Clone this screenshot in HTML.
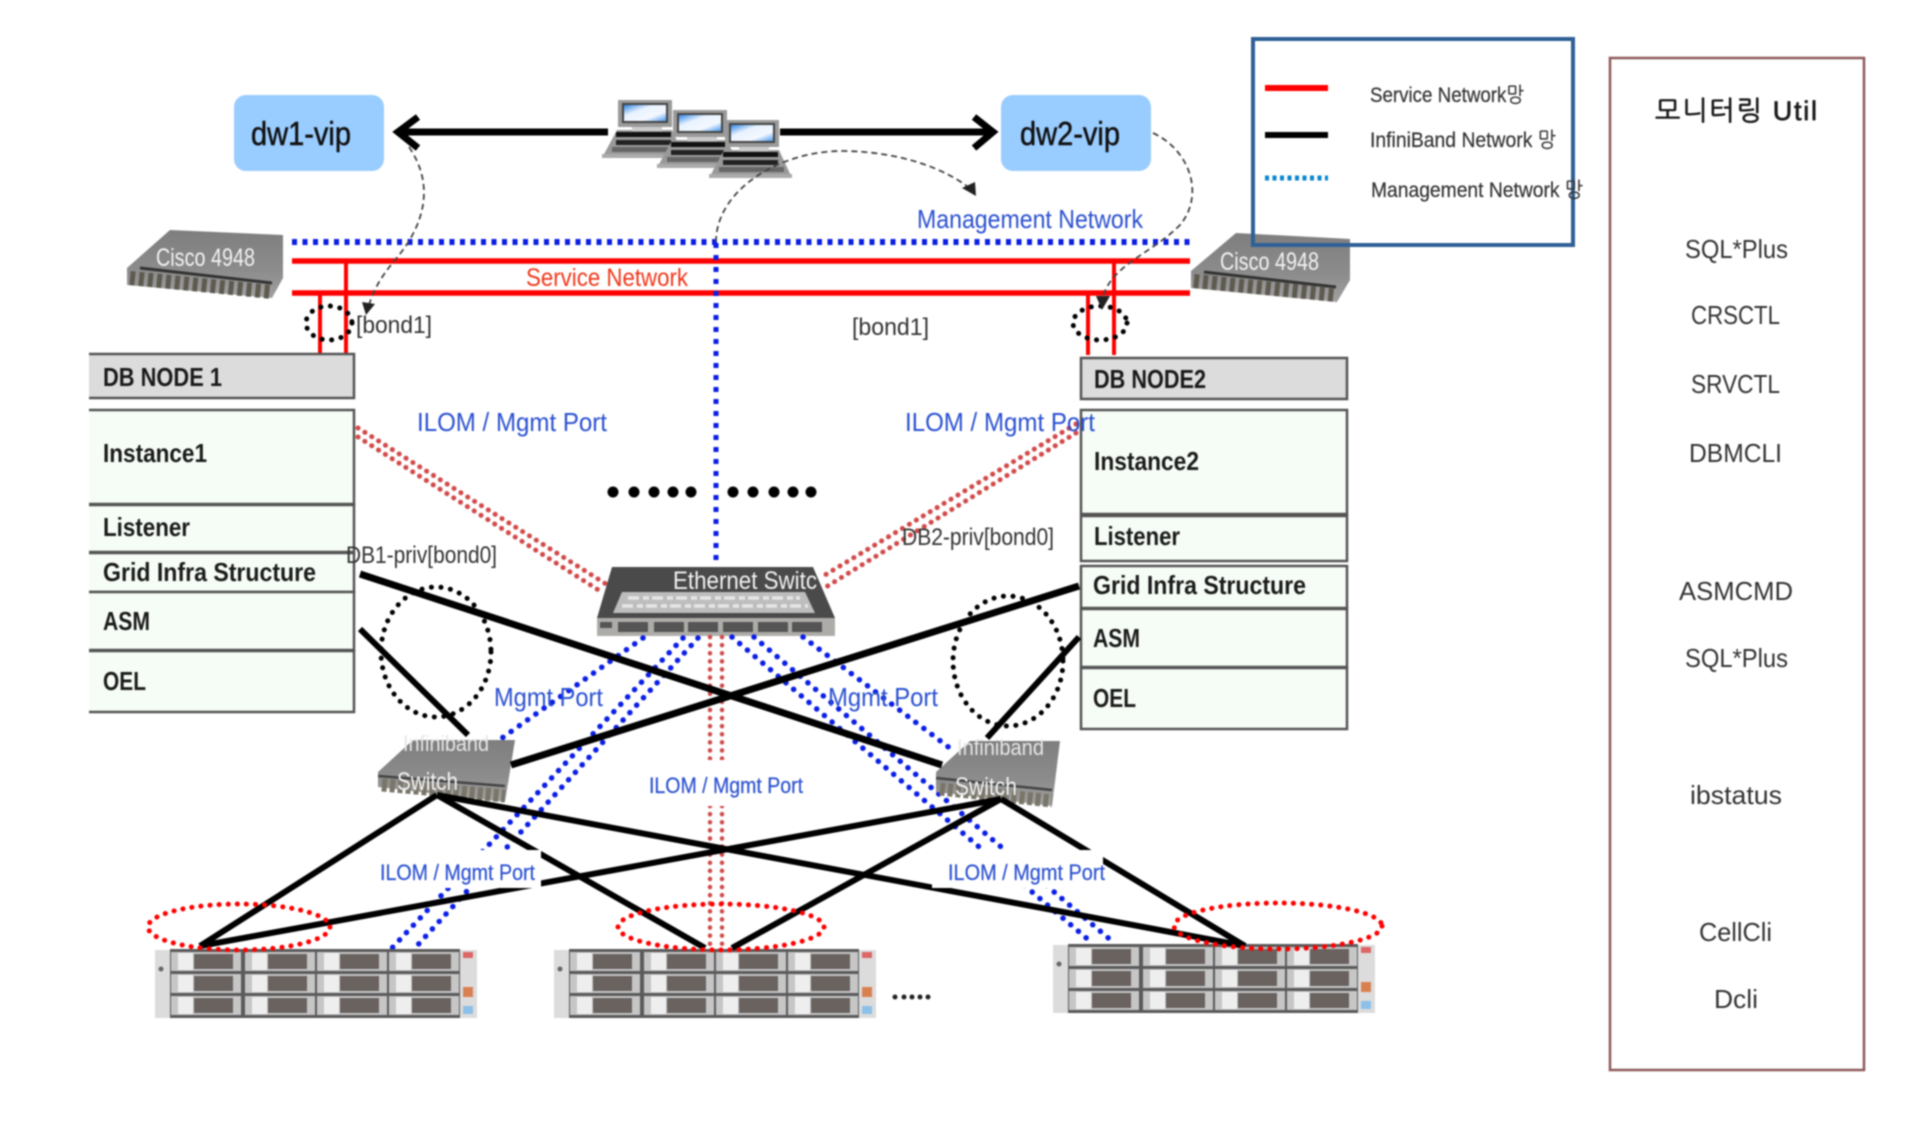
<!DOCTYPE html>
<html lang="ko"><head><meta charset="utf-8"><title>Network diagram</title>
<style>
html,body{margin:0;padding:0;background:#fff}
svg{display:block;filter:blur(.8px)}
text{font-family:"Liberation Sans","NanumGothic","Noto Sans CJK KR",sans-serif}
.n{font-size:26px;font-weight:bold;fill:#1a1a1a}
.v{font-size:33px;fill:#111;stroke:#111;stroke-width:.5}
.b{font-size:26px;fill:#2a50d0}
.s{font-size:22px;fill:#2a50d0;stroke:#2a50d0;stroke-width:.2}
.k{font-size:24px;fill:#333}
.l{font-size:21px;fill:#333;stroke:#333;stroke-width:.2}
.t{font-size:26px;fill:#333}
.w{font-size:25px;fill:#f2f2f2}
.box{fill:#f6fdf6;stroke:#555;stroke-width:2.5}
.bd{stroke:#0a1ee6;stroke-width:5.5;stroke-dasharray:.1 10;stroke-linecap:round;fill:none}
.rd{stroke:#d24a4a;stroke-width:5;stroke-dasharray:.1 8;stroke-linecap:round;fill:none}
.ik{stroke:#000;fill:none}
.ds{stroke:#444;stroke-width:1.8;stroke-dasharray:6 4;fill:none}
.ck{stroke:#000;stroke-width:5;stroke-dasharray:.1 9.5;stroke-linecap:round;fill:none}
.er{stroke:#f00;stroke-width:5;stroke-dasharray:.1 9;stroke-linecap:round;fill:none}
</style></head><body>
<svg xmlns="http://www.w3.org/2000/svg" width="1930" height="1142" viewBox="0 0 1930 1142">
<defs>
<linearGradient id="sw" x1="0" y1="0" x2="0" y2="1"><stop offset="0" stop-color="#7e7e7e"/><stop offset=".6" stop-color="#8c8c8c"/><stop offset="1" stop-color="#a0a0a0"/></linearGradient>
<linearGradient id="scr" x1="0" y1="0" x2="1" y2="1"><stop offset="0" stop-color="#2f86e6"/><stop offset=".35" stop-color="#e8f2ff"/><stop offset=".7" stop-color="#f4f8ff"/><stop offset="1" stop-color="#4a9aee"/></linearGradient>
<g id="lap">
<polygon points="15,32 70,32 83,60 0,60" fill="#999"/>
<rect x="16" y="2" width="54" height="27" fill="#9a9a9a"/>
<rect x="20" y="5" width="46" height="20" fill="#444"/>
<rect x="22" y="7" width="42" height="16" fill="url(#scr)"/>
<rect x="30" y="29" width="30" height="4" fill="#ccc"/>
<rect x="14" y="34" width="55" height="5" fill="#111"/>
<rect x="14" y="42" width="55" height="5" fill="#222"/>
<rect x="10" y="49" width="65" height="5" fill="#666"/>
<rect x="0" y="56" width="83" height="4" fill="#aaa"/>
</g>
<g id="cell"><rect x="0" y="0" width="70" height="19" fill="#c6c6c6"/><rect x="7" y="1" width="15" height="17" fill="#eee"/><rect x="23" y="2" width="39" height="15" fill="#69625f"/></g>
<g id="row"><use href="#cell" x="16"/><use href="#cell" x="90"/><use href="#cell" x="162"/><use href="#cell" x="234"/></g>
<g id="srv">
<rect x="0" y="1" width="322" height="68" fill="#dcdcdc"/>
<rect x="15" y="0" width="290" height="69" fill="#5a5a5a"/>
<use href="#row" y="3"/><use href="#row" y="25"/><use href="#row" y="47"/>
<circle cx="6" cy="20" r="2.5" fill="#666"/>
<rect x="308" y="3" width="10" height="6" fill="#d66"/>
<rect x="308" y="38" width="10" height="10" fill="#d98050"/>
<rect x="308" y="57" width="10" height="8" fill="#8cc0e8"/>
</g>
</defs>
<rect width="1930" height="1142" fill="#fff"/>

<rect x="234" y="95" width="150" height="76" rx="12" fill="#99ccff"/>
<rect x="1001" y="95" width="150" height="76" rx="12" fill="#99ccff"/>
<text x="251" y="145" class="v" textLength="100" lengthAdjust="spacingAndGlyphs">dw1-vip</text>
<text x="1020" y="145" class="v" textLength="100" lengthAdjust="spacingAndGlyphs">dw2-vip</text>

<path d="M398 132H608M780 132H992" stroke="#000" stroke-width="7" fill="none"/>
<path d="M418 117 398 132 418 148M974 117 993 132 974 148" stroke="#000" stroke-width="7" fill="none"/>

<use href="#lap" x="602" y="98"/>
<use href="#lap" x="657" y="108"/>
<use href="#lap" x="709" y="118"/>

<!-- cisco switches -->
<polygon points="170,230 283,235 283,278 272,298 127,285 127,268" fill="url(#sw)"/>
<path d="M140 268 272 283" stroke="#333" stroke-width="3" fill="none"/>
<path d="M130 278 272 292" stroke="#5e5a50" stroke-width="14" stroke-dasharray="5 4" fill="none"/>
<text x="156" y="266" class="w" textLength="99" lengthAdjust="spacingAndGlyphs">Cisco 4948</text>
<polygon points="1236,233 1350,239 1350,280 1337,302 1191,288 1191,271" fill="url(#sw)"/>
<path d="M1204 272 1336 287" stroke="#333" stroke-width="3" fill="none"/>
<path d="M1194 281 1336 295" stroke="#5e5a50" stroke-width="14" stroke-dasharray="5 4" fill="none"/>
<text x="1220" y="270" class="w" textLength="99" lengthAdjust="spacingAndGlyphs">Cisco 4948</text>

<path d="M292 242H1190" stroke="#0a1ee6" stroke-width="6" stroke-dasharray="5 5.5" fill="none"/>
<path d="M292 261H1190M292 293H1190" stroke="#f00" stroke-width="5.5" fill="none"/>
<path d="M320 293V353M346 261V353M1088 293V355M1114 261V355" stroke="#f00" stroke-width="4" fill="none"/>
<path d="M716 243V562" stroke="#0a1ee6" stroke-width="5" stroke-dasharray="5 7" fill="none"/>
<ellipse cx="329" cy="323" rx="23" ry="17" class="ck"/>
<ellipse cx="1100" cy="323" rx="27" ry="17" class="ck"/>

<path d="M409 147C435 185 425 225 395 260C378 280 372 295 369 305" class="ds"/>
<polygon points="362,302 375,304 366,315" fill="#222"/>
<path d="M716 242C716 190 780 150 845 151C900 152 945 168 972 190" class="ds"/>
<polygon points="962,188 975,182 976,196" fill="#222"/>
<path d="M1153 133C1190 150 1205 195 1180 225C1150 255 1110 265 1102 300" class="ds"/>
<polygon points="1096,296 1110,296 1102,310" fill="#222"/>

<text x="526" y="286" style="font-size:25px;fill:#f0381c" textLength="162" lengthAdjust="spacingAndGlyphs">Service Network</text>
<text x="917" y="228" class="b" textLength="226" lengthAdjust="spacingAndGlyphs">Management Network</text>
<text x="356" y="333" class="k" textLength="76" lengthAdjust="spacingAndGlyphs">[bond1]</text>
<text x="852" y="335" class="k" textLength="77" lengthAdjust="spacingAndGlyphs">[bond1]</text>

<!-- node1 -->
<rect x="86" y="354" width="268" height="44" fill="#dcdcdc" stroke="#555" stroke-width="2.5"/>
<rect x="86" y="410" width="268" height="94" class="box"/>
<rect x="86" y="505" width="268" height="47" class="box"/>
<rect x="86" y="553" width="268" height="39" class="box"/>
<rect x="86" y="592" width="268" height="58" class="box"/>
<rect x="86" y="651" width="268" height="61" class="box"/>
<rect x="80" y="350" width="9" height="366" fill="#fff"/>
<text x="103" y="386" class="n" textLength="119" lengthAdjust="spacingAndGlyphs">DB NODE 1</text>
<text x="103" y="462" class="n" textLength="104" lengthAdjust="spacingAndGlyphs">Instance1</text>
<text x="103" y="536" class="n" textLength="87" lengthAdjust="spacingAndGlyphs">Listener</text>
<text x="103" y="581" class="n" textLength="213" lengthAdjust="spacingAndGlyphs">Grid Infra Structure</text>
<text x="103" y="630" class="n" textLength="47" lengthAdjust="spacingAndGlyphs">ASM</text>
<text x="103" y="690" class="n" textLength="43" lengthAdjust="spacingAndGlyphs">OEL</text>

<!-- node2 -->
<rect x="1081" y="358" width="266" height="41" fill="#dcdcdc" stroke="#555" stroke-width="2.5"/>
<rect x="1081" y="410" width="266" height="104" class="box"/>
<rect x="1081" y="516" width="266" height="45" class="box"/>
<rect x="1081" y="566" width="266" height="42" class="box"/>
<rect x="1081" y="609" width="266" height="58" class="box"/>
<rect x="1081" y="668" width="266" height="61" class="box"/>
<text x="1094" y="388" class="n" textLength="112" lengthAdjust="spacingAndGlyphs">DB NODE2</text>
<text x="1094" y="470" class="n" textLength="105" lengthAdjust="spacingAndGlyphs">Instance2</text>
<text x="1094" y="545" class="n" textLength="86" lengthAdjust="spacingAndGlyphs">Listener</text>
<text x="1093" y="594" class="n" textLength="213" lengthAdjust="spacingAndGlyphs">Grid Infra Structure</text>
<text x="1093" y="647" class="n" textLength="47" lengthAdjust="spacingAndGlyphs">ASM</text>
<text x="1093" y="707" class="n" textLength="43" lengthAdjust="spacingAndGlyphs">OEL</text>

<path d="M358 428 606 584M358 437 600 591M1076 424 820 578M1076 433 826 587" class="rd"/>

<!-- ethernet switch -->
<polygon points="612,567 813,567 835,618 835,635 597,635 597,618" fill="#4a4a4a"/>
<polygon points="622,592 805,592 815,613 613,613" fill="#bdbdbd"/>
<path d="M628 598H800M622 606H808" stroke="#e6e6e6" stroke-width="3.5" stroke-dasharray="11 4 6 3" fill="none"/>
<rect x="597" y="618" width="238" height="18" fill="#aeaca8"/>
<g fill="#555"><rect x="618" y="622" width="30" height="10"/><rect x="654" y="622" width="30" height="10"/><rect x="688" y="622" width="30" height="10"/><rect x="723" y="622" width="30" height="10"/><rect x="758" y="622" width="30" height="10"/><rect x="792" y="622" width="30" height="10"/><rect x="600" y="622" width="12" height="6"/></g>
<text x="673" y="589" class="w" textLength="144" lengthAdjust="spacingAndGlyphs">Ethernet Switc</text>

<text x="417" y="431" class="b" textLength="190" lengthAdjust="spacingAndGlyphs">ILOM / Mgmt Port</text>
<text x="905" y="431" class="b" textLength="190" lengthAdjust="spacingAndGlyphs">ILOM / Mgmt Port</text>
<text x="346" y="563" class="k" textLength="151" lengthAdjust="spacingAndGlyphs">DB1-priv[bond0]</text>
<text x="902" y="545" class="k" textLength="152" lengthAdjust="spacingAndGlyphs">DB2-priv[bond0]</text>

<g fill="#000"><circle cx="613" cy="492" r="5.5"/><circle cx="634" cy="492" r="5.5"/><circle cx="654" cy="492" r="5.5"/><circle cx="673" cy="492" r="5.5"/><circle cx="691" cy="492" r="5.5"/><circle cx="733" cy="492" r="5.5"/><circle cx="753" cy="492" r="5.5"/><circle cx="774" cy="492" r="5.5"/><circle cx="793" cy="492" r="5.5"/><circle cx="811" cy="492" r="5.5"/></g>

<ellipse cx="436" cy="652" rx="55" ry="65" class="ck"/>
<ellipse cx="1008" cy="661" rx="55" ry="65" class="ck"/>

<path d="M643 638 502 738M683 638 392 948M698 638 415 948M732 637 1091 942M754 637 1113 942M803 637 951 749" class="bd"/>
<path d="M710 637V760M722 637V760M710 806V950M722 806V950" class="rd" style="stroke-dasharray:.1 8;stroke-width:4.5"/>

<use href="#srv" x="155" y="949"/>
<use href="#srv" x="554" y="949"/>
<use href="#srv" x="1053" y="944"/>

<!-- IB switches -->
<polygon points="413,740 515,740 505,802 378,787 378,772" fill="url(#sw)"/>
<path d="M382 785 505 796" stroke="#7a7568" stroke-width="13" stroke-dasharray="5 3" fill="none"/>
<path d="M378 776 505 786" stroke="#444" stroke-width="2.5" fill="none"/>
<polygon points="970,741 1060,741 1052,806 936,792 936,772" fill="url(#sw)"/>
<path d="M940 789 1052 801" stroke="#7a7568" stroke-width="13" stroke-dasharray="5 3" fill="none"/>
<path d="M936 778 1052 790" stroke="#444" stroke-width="2.5" fill="none"/>
<text x="403" y="751" class="w" style="font-size:22px;fill:#e6e6e6" textLength="86" lengthAdjust="spacingAndGlyphs">Infiniband</text>
<text x="397" y="790" class="w" style="font-size:25px" textLength="61" lengthAdjust="spacingAndGlyphs">Switch</text>
<text x="957" y="755" class="w" style="font-size:22px;fill:#e6e6e6" textLength="87" lengthAdjust="spacingAndGlyphs">Infiniband</text>
<text x="955" y="795" class="w" style="font-size:25px" textLength="62" lengthAdjust="spacingAndGlyphs">Switch</text>

<path d="M360 574 942 765M511 765 1079 586" class="ik" stroke-width="7"/>
<path d="M360 629 468 735M1079 637 987 738" class="ik" stroke-width="6"/>
<path d="M437 795 200 946M437 795 705 948M437 795 1245 946M1001 799 200 946M1001 799 732 948M1001 799 1245 946" class="ik" stroke-width="6"/>

<rect x="369" y="850" width="172" height="38" fill="#fff"/>
<rect x="932" y="850" width="171" height="38" fill="#fff"/>
<rect x="640" y="760" width="170" height="46" fill="#fff"/>

<ellipse cx="239" cy="927" rx="91" ry="23" class="er"/>
<ellipse cx="721" cy="927" rx="103" ry="23" class="er"/>
<ellipse cx="1278" cy="926" rx="104" ry="23" class="er"/>

<text x="649" y="793" class="s" textLength="154" lengthAdjust="spacingAndGlyphs">ILOM / Mgmt Port</text>
<text x="380" y="880" class="s" textLength="155" lengthAdjust="spacingAndGlyphs">ILOM / Mgmt Port</text>
<text x="948" y="880" class="s" textLength="157" lengthAdjust="spacingAndGlyphs">ILOM / Mgmt Port</text>
<text x="494" y="706" class="b" textLength="109" lengthAdjust="spacingAndGlyphs">Mgmt Port</text>
<text x="828" y="706" class="b" textLength="110" lengthAdjust="spacingAndGlyphs">Mgmt Port</text>

<g fill="#222"><circle cx="895" cy="997" r="2.5"/><circle cx="904" cy="997" r="2.5"/><circle cx="912" cy="997" r="2.5"/><circle cx="920" cy="997" r="2.5"/><circle cx="928" cy="997" r="2.5"/></g>

<!-- legend -->
<rect x="1253" y="39" width="320" height="206" fill="none" stroke="#2f5f96" stroke-width="4"/>
<path d="M1265 88H1328" stroke="#f00" stroke-width="6"/>
<path d="M1265 135H1328" stroke="#000" stroke-width="6"/>
<path d="M1265 178H1328" stroke="#0a86d0" stroke-width="5" stroke-dasharray="4 3.5"/>
<text x="1370" y="102" class="l" textLength="154" lengthAdjust="spacingAndGlyphs">Service Network망</text>
<text x="1370" y="147" class="l" textLength="186" lengthAdjust="spacingAndGlyphs">InfiniBand Network 망</text>
<text x="1371" y="197" class="l" textLength="212" lengthAdjust="spacingAndGlyphs">Management Network 망</text>

<!-- util panel -->
<rect x="1610" y="58" width="254" height="1012" fill="none" stroke="#8f5a5a" stroke-width="2.5"/>
<text x="1655" y="120" style="font-size:27px;fill:#1a1a1a;stroke:#1a1a1a;stroke-width:.7" textLength="162" lengthAdjust="spacing">모니터링 Util</text>
<text x="1685" y="258" class="t" textLength="103" lengthAdjust="spacingAndGlyphs">SQL*Plus</text>
<text x="1691" y="324" class="t" textLength="89" lengthAdjust="spacingAndGlyphs">CRSCTL</text>
<text x="1691" y="393" class="t" textLength="89" lengthAdjust="spacingAndGlyphs">SRVCTL</text>
<text x="1689" y="462" class="t" textLength="93" lengthAdjust="spacingAndGlyphs">DBMCLI</text>
<text x="1679" y="600" class="t" textLength="114" lengthAdjust="spacingAndGlyphs">ASMCMD</text>
<text x="1685" y="667" class="t" textLength="103" lengthAdjust="spacingAndGlyphs">SQL*Plus</text>
<text x="1690" y="804" class="t" textLength="92" lengthAdjust="spacingAndGlyphs">ibstatus</text>
<text x="1699" y="941" class="t" textLength="73" lengthAdjust="spacingAndGlyphs">CellCli</text>
<text x="1714" y="1008" class="t" textLength="44" lengthAdjust="spacingAndGlyphs">Dcli</text>
</svg>
</body></html>
